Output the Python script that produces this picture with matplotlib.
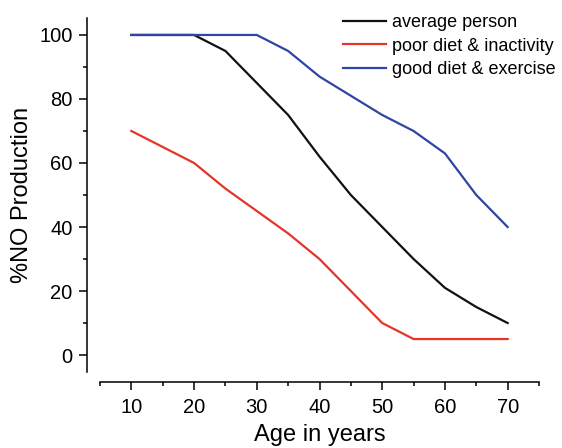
import numpy as np
import matplotlib.pyplot as plt
from matplotlib.ticker import MultipleLocator

plt.rcParams['font.family'] = ['Liberation Sans', 'DejaVu Sans']

# data
age = [10, 20, 25, 30, 35, 40, 45, 50, 55, 60, 65, 70]
average = [100, 100, 95, 85, 75, 62, 50, 40, 30, 21, 15, 10]
poor = [70, 60, 52, 45, 38, 30, 20, 10, 5, 5, 5, 5]
good = [100, 100, 100, 100, 95, 87, 81, 75, 70, 63, 50, 40]

labels = ['average person', 'poor diet & inactivity', 'good diet & exercise']
colors = ['#111111', '#e5352b', '#2f45a2']

fig = plt.figure(figsize=(5.62, 4.48), dpi=100)
ax = fig.add_axes([100/562, 76/448, 439/562, 354/448])

for ys, lab, col in zip([average, poor, good], labels, colors):
    ax.plot(age, ys, '-', color=col, lw=1.6, label=lab)

ax.set_xlim(5, 75)
ax.set_ylim(-5.3, 105.3)

for s in ['top', 'right']:
    ax.spines[s].set_visible(False)
ax.spines['left'].set_position(('outward', 13*0.72))
ax.spines['bottom'].set_position(('outward', 10*0.72))
for s in ['left', 'bottom']:
    ax.spines[s].set_linewidth(1.1)

ax.xaxis.set_major_locator(MultipleLocator(10))
ax.xaxis.set_minor_locator(MultipleLocator(5))
ax.yaxis.set_major_locator(MultipleLocator(20))
ax.yaxis.set_minor_locator(MultipleLocator(10))
ax.tick_params(which='major', direction='out', length=5.5, width=1.1, labelsize=14.5)
ax.tick_params(axis='y', which='major', pad=5)
ax.tick_params(axis='x', which='major', pad=6)
ax.tick_params(which='minor', direction='out', length=3, width=1.1)
ax.set_xticks([10, 20, 30, 40, 50, 60, 70])

ax.set_xlabel('Age in years', fontsize=17, labelpad=5)
ax.set_ylabel('%NO Production', fontsize=17, labelpad=4)

ax.legend(loc='upper left', bbox_to_anchor=(343/562, 1 - 14/448), bbox_transform=fig.transFigure,
          frameon=False, fontsize=13, handlelength=2.4, handletextpad=0.3,
          labelspacing=0.37, borderpad=0, borderaxespad=0)

fig.savefig('out.png', dpi=100)
